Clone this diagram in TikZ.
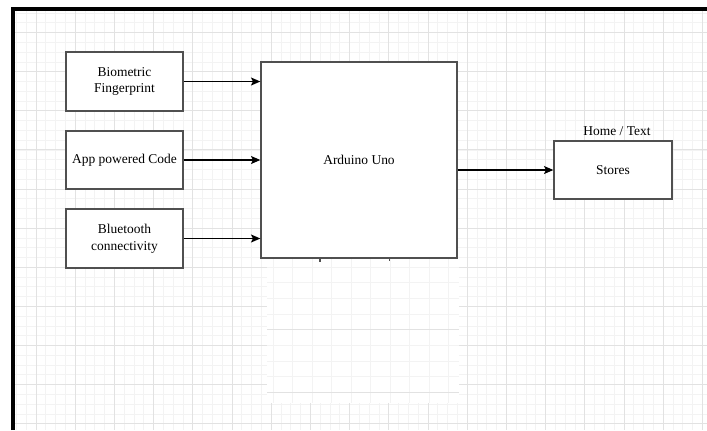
\documentclass[tikz,border=0pt]{standalone}
\usepackage{fontspec}
\setmainfont{Liberation Serif}
\usetikzlibrary{positioning}
\usetikzlibrary{arrows.meta}
\definecolor{gridminor}{RGB}{243,243,243}
\definecolor{gridmajor}{RGB}{226,226,226}
\definecolor{boxline}{RGB}{80,80,80}

\def\pxlen{0.75pt}

\tikzset{
  block/.style={draw=boxline, line width=1pt, fill=white, align=center,
    inner sep=0pt, font=\fontsize{10.1}{12.5}\selectfont},
  link/.style={draw=black, line width=0.9pt, -{Stealth[length=7pt,width=6pt,inset=1.5pt]}},
  minorline/.style={gridminor, line width=0.5pt},
  majorline/.style={gridmajor, line width=0.6pt}
}

\begin{document}
\begin{tikzpicture}[x=0.75pt, y=-0.75pt]
\useasboundingbox (0,0) rectangle (707,430);

%---------------------------------------
% Background grid
%---------------------------------------
\foreach \k in {-2,...,68} {
  \draw[minorline] ({36+9.8*\k},9) -- ({36+9.8*\k},430);
}
\foreach \k in {-2,...,41} {
  \draw[minorline] (13,{32.5+9.78*\k}) -- (707,{32.5+9.78*\k});
}
\foreach \k in {0,...,17} {
  \draw[majorline] ({36+39.2*\k},9) -- ({36+39.2*\k},430);
}
\foreach \k in {0,...,10} {
  \draw[majorline] (13,{32.5+39.1*\k}) -- (707,{32.5+39.1*\k});
}

% pasted patch below the board
\fill[white] (267,259) rectangle (459,403);
\foreach \k in {0,...,9} {
  \draw[minorline] ({273+19.5*\k},259) -- ({273+19.5*\k},403);
}
\foreach \k in {0,...,8} {
  \draw[minorline] (267,{267+15.65*\k}) -- (459,{267+15.65*\k});
}
\draw[majorline] (267,329) -- (459,329);
\draw[majorline] (267,392) -- (459,392);

% Frame
\draw[black, line width=2.5pt] (13,430) -- (13,9) -- (707,9);

%---------------------------------------
% Blocks
%---------------------------------------
\node[block, minimum width={117*\pxlen}, minimum height={59*\pxlen}]
  (bio) at (124.5,81.5) {Biometric\\Fingerprint};
\node[block, minimum width={117*\pxlen}, minimum height={58*\pxlen}]
  (app) at (124.5,160) {App powered Code};
\node[block, minimum width={117*\pxlen}, minimum height={59*\pxlen}]
  (blue) at (124.5,238.5) {Bluetooth\\connectivity};

\node[block, minimum width={196*\pxlen}, minimum height={196*\pxlen}]
  (uno) at (359,160) {Arduino Uno};

\node[block, minimum width={118*\pxlen}, minimum height={58*\pxlen}]
  (stores) at (613,170) {Stores};
\node[font=\fontsize{10.1}{12.5}\selectfont, inner sep=0pt]
  (home) at (617,131) {Home / Text};

% small ticks under the board
\draw[boxline, line width=0.8pt] (320,258) -- (320,262);
\draw[boxline, line width=0.5pt] (389,258) -- (389,261);

%---------------------------------------
% Links
%---------------------------------------
\draw[link] (bio.east) -- (bio.east -| uno.west);
\draw[link] (app.east) -- (app.east -| uno.west);
\draw[link] (blue.east) -- (blue.east -| uno.west);
\draw[link] (uno.east |- stores.west) -- (stores.west);

\end{tikzpicture}
\end{document}
